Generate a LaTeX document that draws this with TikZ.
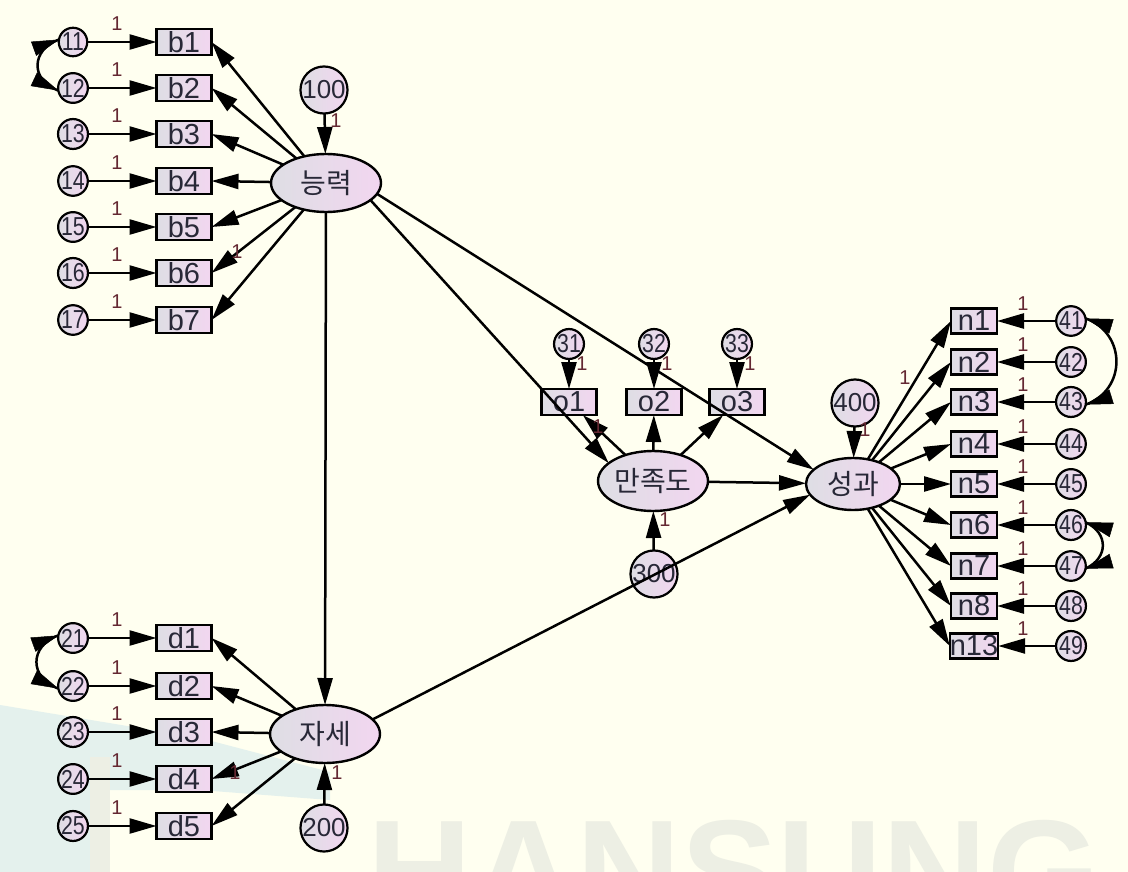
\documentclass[tikz,border=0pt]{standalone}
\usepackage{fontspec}
\setmainfont{Liberation Sans}
\newfontfamily\condfont[FakeStretch=0.82]{Liberation Sans}
\newfontfamily\krfont{Noto Sans CJK KR}
\usetikzlibrary{arrows.meta,shapes.geometric}
\definecolor{bgc}{RGB}{255,255,240}
\definecolor{fl}{RGB}{222,222,228}
\definecolor{fr}{RGB}{242,214,240}
\definecolor{lblc}{RGB}{100,40,50}
\definecolor{txt}{RGB}{40,40,55}
\definecolor{wmg}{RGB}{237,239,228}
\definecolor{wmt}{RGB}{228,241,237}
\newcommand{\fsz}[1]{\fontsize{#1}{#1}\selectfont}
\newcommand{\covtip}[2]{\draw[tipsty] ([shift={(#2:27pt)}]#1) -- (#1);}
\begin{document}
\begin{tikzpicture}[x=1pt,y=1pt,
  every node/.style={inner sep=0pt,outer sep=0pt,text=txt},
  obs/.style={rectangle,draw,line width=2.3pt,minimum width=55pt,minimum height=26pt,left color=fl,right color=fr,font=\fsz{29}},
  nobs/.style={obs,minimum width=46pt,minimum height=25pt,font=\fsz{29}},
  err/.style={circle,draw,line width=2.2pt,minimum size=26pt,left color=fl,right color=fr,font=\condfont\fsz{26}},
  dist/.style={circle,draw,line width=2.2pt,minimum size=40pt,left color=fl,right color=fr,font=\fsz{26}},
  lat/.style={ellipse,draw,line width=2.4pt,minimum width=110pt,minimum height=58pt,left color=fl,right color=fr,font=\krfont\fsz{28}},
  one/.style={font=\fsz{20},text=lblc},
  arr/.style={draw,line width=2.5pt,-{Triangle[length=27pt,width=15pt]}},
  cov/.style={draw,line width=2.5pt},
  tipsty/.style={line width=0.5pt,-{Triangle[length=27pt,width=15pt]}},
]
\useasboundingbox (0,0) rectangle (1128,-872);
\clip (0,0) rectangle (1128,-872);
\fill[bgc] (0,0) rectangle (1128,-872);
% watermark
\fill[wmt] (0,-705) -- (200,-738) -- (330,-772) -- (330,-800) -- (200,-790) -- (90,-790) -- (90,-872) -- (0,-872) -- cycle;
\fill[wmg] (90,-757) rectangle (110,-872);
\node[anchor=base west,font=\fsz{145}\bfseries,text=wmg] (wm) at (367,-921) {HANSUNG};

% latent variables
\node[lat] (neung) at (326,-183) {능력};
\node[lat] (jase) at (325,-734) {자세};
\node[lat,minimum height=60pt] (manjok) at (653,-481) {만족도};
\node[lat,minimum width=94pt,minimum height=52pt] (seong) at (853,-484) {성과};
\node[dist] (d100) at (324,-90) {100};
\node[dist,minimum size=42pt] (d200) at (324,-828) {200};
\node[dist,minimum size=44pt] (d300) at (654,-574) {300};
\node[dist] (d400) at (855,-403) {400};

% b indicators
\foreach \i/\y in {1/42,2/88,3/134,4/181,5/227,6/273,7/320}{
  \node[obs] (b\i) at (184,-\y) {b\i};
  \node[err] (e1\i) at (73,-\y) {1\i};
  \node[one] at (117,-\y+18) {1};
}
% d indicators
\foreach \i/\y in {1/638,2/686,3/732,4/779,5/826}{
  \node[obs] (d\i) at (184,-\y) {d\i};
  \node[err] (e2\i) at (73,-\y) {2\i};
  \node[one] at (117,-\y+18) {1};
}
% o indicators
\foreach \i/\x in {1/569,2/654,3/737}{
  \node[err,minimum size=28pt] (e3\i) at (\x,-344) {3\i};
  \node[obs] (o\i) at (\x,-402) {o\i};
  \node[one] at (\x+13,-364) {1};
}
% n indicators
\foreach \i/\y/\e in {1/321/1,2/362/2,3/402/3,4/444/4,5/484/5,6/525/6,7/566/7,8/606/8,13/646/9}{
  \node[nobs] (n\i) at (974,-\y) {n\i};
  \node[err,minimum size=25pt] (e4\e) at (1071,-\y) {4\e};
  \node[one] at (1023,-\y+17) {1};
}

% structural paths
\draw[arr] (d100) -- (neung);
\draw[arr] (d200) -- (jase);
\draw[arr] (d300) -- (manjok);
\draw[arr] (d400) -- (seong);
\draw[arr] (neung) -- (jase);
\draw[arr] (neung.-21) -- (manjok.158);
\draw[arr] (neung.-12) -- (seong.160);
\draw[arr] (jase.17) -- (seong.194);
\draw[arr] (manjok) -- (seong);

% measurement paths
\foreach \i in {1,...,7}{
  \draw[arr] (e1\i) -- (b\i);
  \draw[arr] (neung) -- (b\i.east);
}
\foreach \i in {1,...,5}{
  \draw[arr] (e2\i) -- (d\i);
  \draw[arr] (jase) -- (d\i.east);
}
\foreach \i in {1,2,3}{
  \draw[arr] (e3\i) -- (o\i);
  \draw[arr] (manjok) -- (o\i);
}
\foreach \i/\e in {1/1,2/2,3/3,4/4,5/5,6/6,7/7,8/8,13/9}{
  \draw[arr] (e4\e) -- (n\i);
  \draw[arr] (seong) -- (n\i.west);
}

% covariances
\draw[cov] (e11.170) to[out=200,in=160,looseness=1.5] (e12.190);
\covtip{e11.170}{200}
\covtip{e12.190}{155}
\draw[cov] (e21.170) to[out=200,in=160,looseness=1.5] (e22.190);
\covtip{e21.170}{200}
\covtip{e22.190}{155}
\draw[cov] (e41.10) to[out=-20,in=20,looseness=1.3] (e43.-10);
\covtip{e41.10}{-17}
\covtip{e43.-10}{17}
\draw[cov] (e46.10) to[out=-25,in=25,looseness=1.4] (e47.-10);
\covtip{e46.10}{-16}
\covtip{e47.-10}{16}

% loading labels
\node[one] at (237,-252) {1};
\node[one] at (235,-773) {1};
\node[one] at (598,-427) {1};
\node[one] at (905,-378) {1};
\node[one] at (336,-121) {1};
\node[one] at (337,-773) {1};
\node[one] at (665,-520) {1};
\node[one] at (865,-430) {1};
\end{tikzpicture}
\end{document}
